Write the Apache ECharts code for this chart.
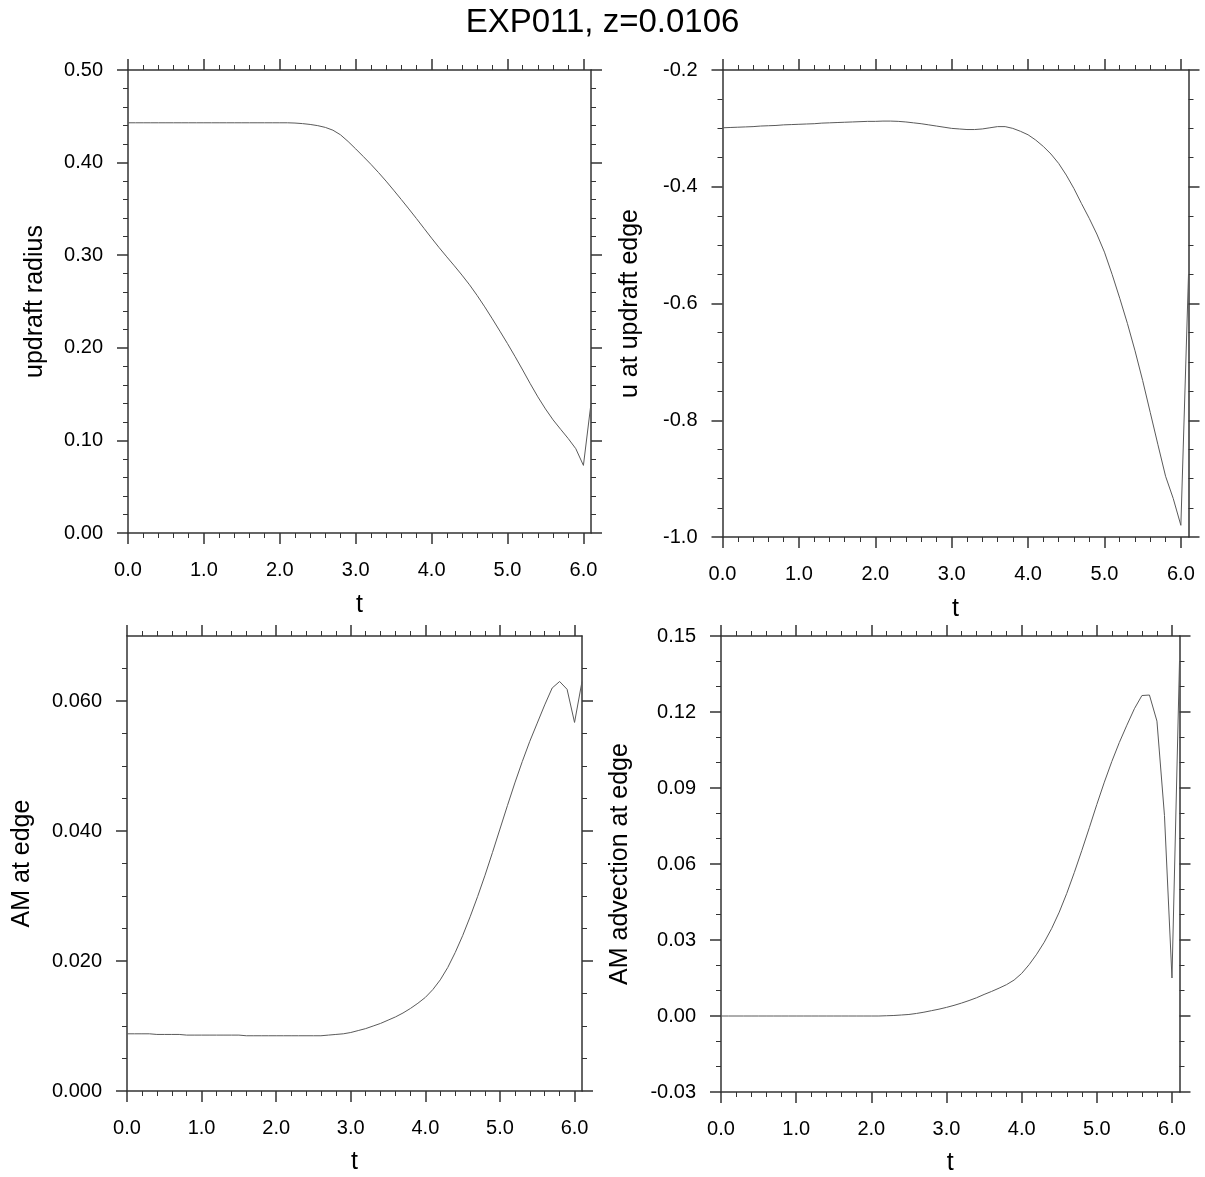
<!DOCTYPE html>
<html>
<head>
<meta charset="utf-8">
<script src="https://cdn.jsdelivr.net/npm/echarts@6/dist/echarts.min.js"></script>
<style>
html,body{margin:0;padding:0;background:#fff;}
#main{width:1205px;height:1177px;}
</style>
</head>
<body>
<div id="main"></div>
<script>
// ---- data ----
const tValues = [0.0,0.1,0.2,0.3,0.4,0.5,0.6,0.7,0.8,0.9,1.0,1.1,1.2,1.3,1.4,1.5,1.6,1.7,1.8,1.9,2.0,2.1,2.2,2.3,2.4,2.5,2.6,2.7,2.8,2.9,3.0,3.1,3.2,3.3,3.4,3.5,3.6,3.7,3.8,3.9,4.0,4.1,4.2,4.3,4.4,4.5,4.6,4.7,4.8,4.9,5.0,5.1,5.2,5.3,5.4,5.5,5.6,5.7,5.8,5.9,6.0,6.1];

const updraftRadius = [0.443,0.443,0.443,0.443,0.443,0.443,0.443,0.443,0.443,0.443,0.443,0.443,0.443,0.443,0.443,0.443,0.443,0.443,0.443,0.443,0.443,0.443,
  0.4427,0.4421,0.4412,0.4399,0.4380,0.4350,0.4300,0.4228,0.4148,0.4066,0.3982,0.3893,0.3800,0.3702,0.3602,0.3500,0.3396,0.3290,0.3184,0.3081,0.2982,0.2885,0.2785,0.2680,0.2565,0.2442,0.2313,0.2180,0.2045,0.1905,0.1760,0.1612,0.1470,0.1340,0.1222,0.1120,0.1020,0.0910,0.0730,0.1400];

const uAtEdge = [-0.299,-0.2985,-0.298,-0.2975,-0.297,-0.296,-0.2955,-0.295,-0.294,-0.2935,-0.293,-0.2925,-0.292,-0.291,-0.2905,-0.290,-0.2895,-0.289,-0.2885,-0.288,-0.288,-0.2875,-0.2875,-0.288,-0.289,-0.2905,-0.292,-0.294,-0.296,-0.298,-0.300,-0.301,-0.302,-0.302,-0.301,-0.299,-0.297,-0.297,-0.300,-0.305,-0.311,-0.320,-0.331,-0.344,-0.360,-0.380,-0.403,-0.429,-0.454,-0.481,-0.512,-0.550,-0.591,-0.634,-0.681,-0.732,-0.787,-0.842,-0.896,-0.934,-0.980,-0.550];

const amAtEdge = [0.0088,0.0088,0.0088,0.0088,0.0087,0.0087,0.0087,0.0087,0.0086,0.0086,0.0086,0.0086,0.0086,0.0086,0.0086,0.0086,0.0085,0.0085,0.0085,0.0085,0.0085,0.0085,0.0085,0.0085,0.0085,0.0085,0.0085,0.0086,0.0087,0.0088,0.0090,0.0093,0.0096,0.0100,0.0104,0.0109,0.0114,0.0120,0.0127,0.0135,0.0144,0.0156,0.0171,0.0190,0.0213,0.0239,0.0268,0.0299,0.0332,0.0367,0.0403,0.0439,0.0474,0.0507,0.0538,0.0566,0.0594,0.0620,0.0630,0.0618,0.0567,0.0630];

const amAdvection = [0,0,0,0,0,0,0,0,0,0,0,0,0,0,0,0,0,0,0,0,0,0,
  0.0001,0.0002,0.0004,0.0006,0.0010,0.0015,0.0021,0.0027,0.0034,0.0042,0.0051,0.0061,0.0072,0.0085,0.0097,0.0110,0.0124,0.0142,0.0168,0.0203,0.0244,0.0291,0.0346,0.0410,0.0484,0.0566,0.0653,0.0743,0.0835,0.0923,0.1005,0.1080,0.1148,0.1213,0.1265,0.1267,0.1164,0.0792,0.0150,0.1400];

// tick labels / tick values
const xMajor = [0,1,2,3,4,5,6];
const xMinor = [0.2,0.4,0.6,0.8,1.2,1.4,1.6,1.8,2.2,2.4,2.6,2.8,3.2,3.4,3.6,3.8,4.2,4.4,4.6,4.8,5.2,5.4,5.6,5.8];
const y1Major = [0,0.1,0.2,0.3,0.4,0.5];
const y1Minor = [0.02,0.04,0.06,0.08,0.12,0.14,0.16,0.18,0.22,0.24,0.26,0.28,0.32,0.34,0.36,0.38,0.42,0.44,0.46,0.48];
const y2Major = [-1.0,-0.8,-0.6,-0.4,-0.2];
const y2Minor = [-0.95,-0.9,-0.85,-0.75,-0.7,-0.65,-0.55,-0.5,-0.45,-0.35,-0.3,-0.25];
const y3Major = [0,0.02,0.04,0.06];
const y3Minor = [0.005,0.01,0.015,0.025,0.03,0.035,0.045,0.05,0.055,0.065];
const y4Major = [-0.03,0,0.03,0.06,0.09,0.12,0.15];
const y4Minor = [-0.02,-0.01,0.01,0.02,0.04,0.05,0.07,0.08,0.1,0.11,0.13,0.14];

const titleText = 'EXP011, z=0.0106';
const xName = 't';

// ---- layout ----
const FONT = '"Liberation Sans", Arial, Helvetica, sans-serif';
const panels = [
  {grid:{left:128, top:70, width:463, height:463}, ymin:0, ymax:0.5, yMajor:y1Major, yMinor:y1Minor, dec:2, name:'updraft radius', nameGap:80, xNameGap:60, data:updraftRadius},
  {grid:{left:722.5, top:70, width:466, height:467}, ymin:-1.0, ymax:-0.2, yMajor:y2Major, yMinor:y2Minor, dec:1, name:'u at updraft edge', nameGap:80, xNameGap:60, data:uAtEdge},
  {grid:{left:127, top:636, width:455, height:455}, ymin:0, ymax:0.07, yMajor:y3Major, yMinor:y3Minor, dec:3, name:'AM at edge', nameGap:92, xNameGap:59, data:amAtEdge},
  {grid:{left:721, top:636, width:458.5, height:458.5}, ymin:-0.03, ymax:0.15, yMajor:y4Major, yMinor:y4Minor, dec:2, name:'AM advection at edge', nameGap:88, xNameGap:59, data:amAdvection}
];

const AX = '#333';
const grids = [], xAxes = [], yAxes = [], series = [];

function mkAxis(gi, pos, major, isMajor, opts) {
  const a = {
    type:'value', gridIndex:gi, position:pos,
    min:opts.min, max:opts.max,
    splitLine:{show:false},
    axisLine:{show:isMajor, onZero:false, lineStyle:{color:AX, width:1.5}},
    axisTick:{show:true, inside:false, length:isMajor?11:5, customValues:major,
              lineStyle:{color:AX, width:isMajor?1.5:1}},
    axisLabel:{show:false},
    silent:true
  };
  if (opts.label) {
    a.axisLabel = {show:true, customValues:major, margin:opts.margin,
      color:'#000', fontFamily:FONT, fontSize:20,
      formatter:(v)=>Number(v).toFixed(opts.dec)};
    a.name = opts.name;
    a.nameLocation = 'middle';
    a.nameGap = opts.nameGap;
    a.nameTextStyle = {color:'#000', fontFamily:FONT, fontSize:25};
  }
  return a;
}

panels.forEach((p, gi) => {
  grids.push(Object.assign({containLabel:false}, p.grid));
  const xo = {min:0, max:6.1, dec:1};
  const xi = xAxes.length;
  xAxes.push(mkAxis(gi, 'bottom', xMajor, true, Object.assign({}, xo, {label:true, margin:27, name:xName, nameGap:p.xNameGap})));
  xAxes.push(mkAxis(gi, 'bottom', xMinor, false, xo));
  xAxes.push(mkAxis(gi, 'top', xMajor, true, xo));
  xAxes.push(mkAxis(gi, 'top', xMinor, false, xo));
  const yo = {min:p.ymin, max:p.ymax, dec:p.dec};
  const yi = yAxes.length;
  yAxes.push(mkAxis(gi, 'left', p.yMajor, true, Object.assign({}, yo, {label:true, margin:25, name:p.name, nameGap:p.nameGap})));
  yAxes.push(mkAxis(gi, 'left', p.yMinor, false, yo));
  yAxes.push(mkAxis(gi, 'right', p.yMajor, true, yo));
  yAxes.push(mkAxis(gi, 'right', p.yMinor, false, yo));
  series.push({
    type:'line', xAxisIndex:xi, yAxisIndex:yi,
    data: tValues.map((t, i) => [t, p.data[i]]),
    showSymbol:false, symbol:'none', smooth:false,
    lineStyle:{color:'#5a5a5a', width:1}, silent:true
  });
});

const chart = echarts.init(document.getElementById('main'), null, {renderer:'canvas'});
chart.setOption({
  animation:false,
  backgroundColor:'#fff',
  title:{text:titleText, left:'center', top:1,
    textStyle:{color:'#000', fontFamily:FONT, fontSize:33, fontWeight:'normal'}},
  grid:grids, xAxis:xAxes, yAxis:yAxes, series:series
});
</script>
</body>
</html>
